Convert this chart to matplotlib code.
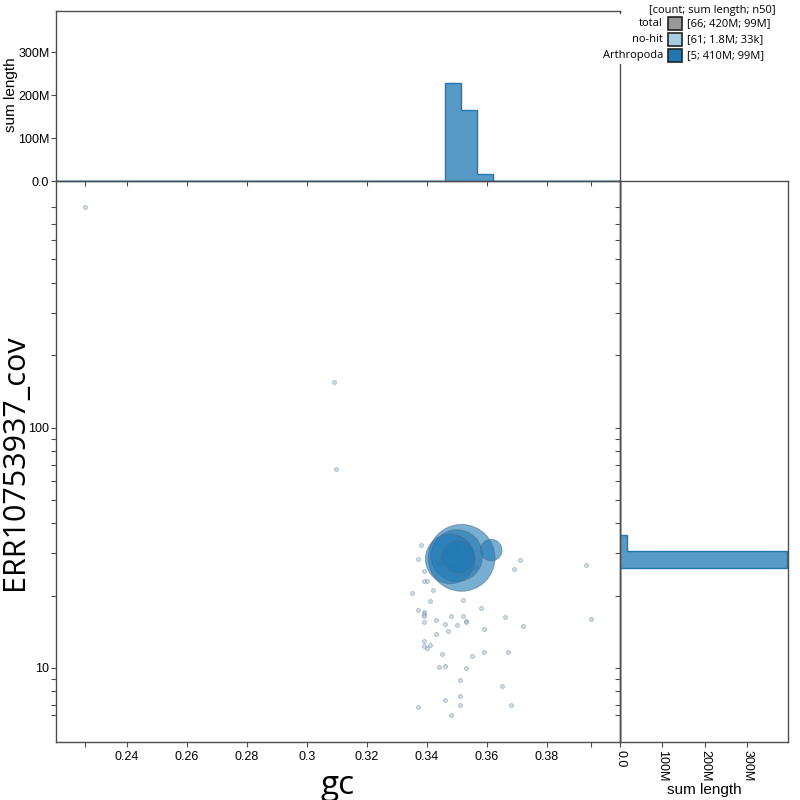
import numpy as np
import matplotlib
matplotlib.use("Agg")
import matplotlib.pyplot as plt
from matplotlib.patches import Rectangle
from matplotlib.ticker import FixedLocator, NullFormatter

# ---------------- data ----------------
nohit_gc = [0.3379, 0.3369, 0.3389, 0.3389, 0.3399, 0.3419, 0.3349, 0.3409, 0.3519, 0.3369,
            0.3389, 0.3389, 0.3389, 0.3579, 0.3479, 0.3519, 0.3429, 0.3529, 0.3529, 0.3659,
            0.3459, 0.3499, 0.3389, 0.3719, 0.3589, 0.3469, 0.3429, 0.3389, 0.3389, 0.3409,
            0.3399, 0.3449, 0.3549, 0.3589, 0.3669, 0.3439, 0.3459, 0.3529, 0.3509, 0.3649,
            0.3509, 0.3459, 0.3509, 0.3679, 0.3369, 0.3479, 0.3689, 0.3709, 0.3929, 0.3949,
            0.2259, 0.3089, 0.3098, 0.3440, 0.3460, 0.3480, 0.3500, 0.3520, 0.3540, 0.3560,
            0.3450]
nohit_cov = [32.5, 28.5, 25.4, 23.0, 23.0, 21.1, 20.4, 19.0, 19.1, 17.5,
             17.1, 16.8, 16.5, 17.7, 16.4, 16.4, 15.9, 15.7, 15.5, 16.3,
             15.2, 15.1, 15.5, 15.0, 14.5, 14.2, 13.8, 12.9, 12.35, 12.5,
             12.1, 11.4, 11.25, 11.7, 11.6, 10.07, 10.2, 10.0, 8.89, 8.39,
             7.64, 7.36, 7.01, 7.0, 6.88, 6.35, 25.8, 28.2, 26.8, 16.0,
             823.0, 154.5, 67.5, 27.0, 30.5, 26.5, 31.5, 27.5, 29.0, 26.2,
             29.0]
nohit_len_kb = [33, 29, 31, 27, 35, 30, 26, 28, 34, 25,
                32, 29, 27, 36, 30, 28, 31, 26, 33, 29,
                27, 30, 28, 35, 26, 29, 31, 27, 30, 28,
                32, 26, 29, 31, 27, 30, 28, 25, 33, 29,
                27, 31, 26, 30, 28, 29, 34, 32, 27, 30,
                24, 28, 31, 33, 29, 30, 27, 32, 28, 31,
                29]

arth_gc = [0.3516, 0.3500, 0.3478, 0.3505, 0.3615]
arth_cov = [28.7, 29.3, 28.4, 29.0, 30.9]
arth_len_mb = [165, 99, 91, 38, 17]

legend_names = ["total", "no-hit", "Arthropoda"]
legend_stats = ["[66; 420M; 99M]", "[61; 1.8M; 33k]", "[5; 410M; 99M]"]
legend_colors = ["#999999", "#a6cee3", "#1f78b4"]

x_major = [0.24, 0.26, 0.28, 0.30, 0.32, 0.34, 0.36, 0.38]
x_labels = ["0.24", "0.26", "0.28", "0.3", "0.32", "0.34", "0.36", "0.38"]
len_ticks = [0, 1e8, 2e8, 3e8]
len_labels = ["0.0", "100M", "200M", "300M"]

# ---------------- derived ----------------
nh_gc = np.array(nohit_gc)
nh_cov = np.array(nohit_cov)
nh_len = np.array(nohit_len_kb) * 1e3
ar_gc = np.array(arth_gc)
ar_cov = np.array(arth_cov)
ar_len = np.array(arth_len_mb) * 1e6

all_gc = np.concatenate([nh_gc, ar_gc])
all_cov = np.concatenate([nh_cov, ar_cov])

xlim = (0.2164, 0.4044)
ylim = (4.92, 1060)
lenmax = 3.96e8

gc_bins = np.arange(xlim[0], xlim[1] + 0.0054, 0.0054)
logw = 0.0694
cov_bins = 10 ** np.arange(1.415 - logw * 11, 3.1, logw)

FIG = 800.0
def fx(px): return px / FIG
def fy(py): return 1 - py / FIG

fig = plt.figure(figsize=(8, 8), dpi=100)
ax = fig.add_axes([fx(56), fy(742), (620 - 56) / FIG, (742 - 181) / FIG])
axt = fig.add_axes([fx(56), fy(181), (620 - 56) / FIG, (181 - 11) / FIG], sharex=ax)
axr = fig.add_axes([fx(620), fy(742), (788 - 620) / FIG, (742 - 181) / FIG], sharey=ax)

spine_col = "#4d4d4d"

# ---- scatter ----
ax.set_yscale("log")
ax.set_xlim(*xlim)
ax.set_ylim(*ylim)

ax.scatter(nh_gc, nh_cov, s=7, facecolor=(0.65, 0.81, 0.89, 0.45),
           edgecolor=(0.45, 0.55, 0.62, 0.7), linewidth=0.6, zorder=2)

sizes = np.maximum(7, ar_len / 1e6 * 14.0)
order = np.argsort(-ar_len)
ax.scatter(ar_gc[order], ar_cov[order], s=sizes[order],
           facecolor=(0.121, 0.471, 0.706, 0.6),
           edgecolor=(0.3, 0.42, 0.52, 0.5), linewidth=0.8, zorder=3)

# ---- top histogram ----
axt.hist(nh_gc, bins=gc_bins, weights=nh_len, histtype="stepfilled",
         facecolor=(0.65, 0.81, 0.89, 0.75), edgecolor="#a6cee3", linewidth=1)
axt.hist(ar_gc, bins=gc_bins, weights=ar_len, histtype="stepfilled",
         facecolor=(0.121, 0.471, 0.706, 0.75), edgecolor="#1f78b4", linewidth=1)
axt.set_ylim(0, lenmax)

# ---- right histogram ----
axr.hist(nh_cov, bins=cov_bins, weights=nh_len, histtype="stepfilled",
         orientation="horizontal",
         facecolor=(0.65, 0.81, 0.89, 0.75), edgecolor="#a6cee3", linewidth=1)
axr.hist(ar_cov, bins=cov_bins, weights=ar_len, histtype="stepfilled",
         orientation="horizontal",
         facecolor=(0.121, 0.471, 0.706, 0.75), edgecolor="#1f78b4", linewidth=1)
axr.set_xlim(0, lenmax)

# ---- ticks ----
ax.xaxis.set_major_locator(FixedLocator(x_major))
ax.xaxis.set_minor_locator(FixedLocator([min(all_gc), max(all_gc)]))
ax.set_xticklabels(x_labels)
ax.yaxis.set_major_locator(FixedLocator([10, 100]))
ax.yaxis.set_minor_locator(FixedLocator([min(all_cov), 7, 8, 9, 20, 30, 40, 50, 60, 70, 80, 90,
                                         200, 300, 400, 500, 600, 700, max(all_cov)]))
ax.set_yticklabels(["10", "100"])
ax.yaxis.set_minor_formatter(NullFormatter())

for a in (ax, axt, axr):
    for s in a.spines.values():
        s.set_color(spine_col)
        s.set_linewidth(1.0)
    a.tick_params(which="both", direction="out", length=3.8, width=0.8, pad=2,
                  colors=spine_col, labelcolor="black", labelsize=9)

ax.tick_params(axis="x", which="both", bottom=True, top=False, pad=3)
ax.tick_params(axis="y", which="both", left=True, right=False, pad=1)

axt.tick_params(axis="x", which="both", labelbottom=False)
axt.tick_params(axis="y", pad=1)
axt.yaxis.set_major_locator(FixedLocator(len_ticks))
axt.set_yticklabels(len_labels)

axr.tick_params(axis="y", which="both", labelleft=False)
axr.xaxis.set_major_locator(FixedLocator(len_ticks))
axr.set_xticklabels(len_labels, rotation=-90)
axr.set_xlabel("sum length", fontfamily="Liberation Sans", fontsize=11, labelpad=1)

for a in (ax, axt, axr):
    for lab in a.get_xticklabels() + a.get_yticklabels():
        lab.set_fontfamily("Liberation Sans")

fig.text(fx(11), fy(95), "sum length", rotation=90, ha="center", va="center",
         fontfamily="Liberation Sans", fontsize=11)
fig.text(fx(338), fy(785), "gc", ha="center", va="center",
         fontfamily="Open Sans", fontsize=24)
fig.text(fx(15), fy(462), "ERR10753937_cov", rotation=90, ha="center", va="center",
         fontfamily="Open Sans", fontsize=22)

# ---- legend ----
fig.add_artist(Rectangle((fx(598), fy(64)), 202 / FIG, 50 / FIG,
                         transform=fig.transFigure, facecolor="white",
                         edgecolor="none", zorder=5))
fig.text(fx(712), fy(11), "[count; sum length; n50]", ha="center", va="center",
         fontsize=8, family="Open Sans", zorder=6)
row_y = [23.5, 39.5, 55.5]
for name, stat, col, yy in zip(legend_names, legend_stats, legend_colors, row_y):
    fig.text(fx(663), fy(yy), name, ha="right", va="center", fontsize=8,
             family="Open Sans", zorder=6)
    fig.add_artist(Rectangle((fx(668), fy(yy + 6.5)), 14 / FIG, 13 / FIG,
                             transform=fig.transFigure, facecolor=col,
                             edgecolor="#222222", linewidth=1.2, zorder=6))
    fig.text(fx(687), fy(yy), stat, ha="left", va="center", fontsize=8,
             family="Open Sans", zorder=6)

fig.savefig("out.png", dpi=100)
